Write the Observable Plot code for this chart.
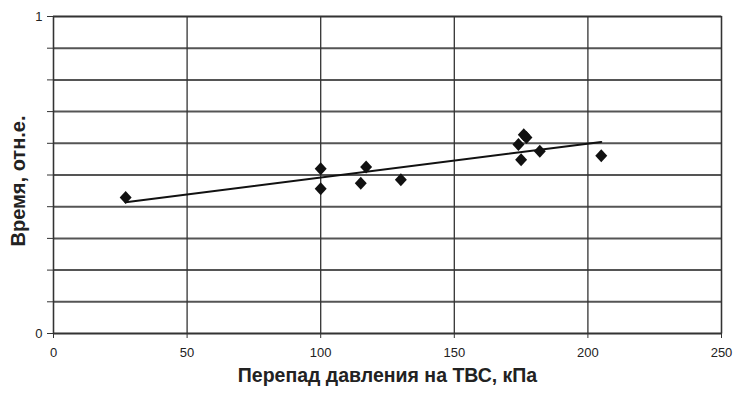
<!DOCTYPE html>
<html><head><meta charset="utf-8">
<script src="https://cdn.jsdelivr.net/npm/d3@7"></script>
<script src="https://cdn.jsdelivr.net/npm/@observablehq/plot@0.6"></script>
<style>body{margin:0;background:#fff}</style>
</head><body><div id="chart"></div>
<script>
const pressure = [27, 100, 100, 115, 117, 130, 174, 175, 176, 177, 182, 205];
const time     = [0.429, 0.52, 0.457, 0.474, 0.525, 0.485, 0.596, 0.548, 0.627, 0.618, 0.575, 0.561];
const xTicks = [0, 50, 100, 150, 200, 250];
const yGrid = [0, 0.1, 0.2, 0.3, 0.4, 0.5, 0.6, 0.7, 0.8, 0.9, 1];
const yLabels = [0, 1];
const xLabel = "Перепад давления на ТВС, кПа";
const yLabel = "Время, отн.е.";

const data = pressure.map((p, i) => ({x: p, y: time[i]}));
const font = "'Liberation Sans Narrow', 'Liberation Sans', Arial, sans-serif";
const boldFont = "'Liberation Sans', Arial, sans-serif";

// Excel-style filled diamond (equal width and height)
const diamond = {
  draw(context, size) {
    const r = Math.sqrt(size / Math.PI);
    const w = r * 0.92;
    context.moveTo(0, -r);
    context.lineTo(w, 0);
    context.lineTo(0, r);
    context.lineTo(-w, 0);
    context.closePath();
  }
};

const chart = Plot.plot({
  width: 737, height: 393,
  marginLeft: 53, marginRight: 16, marginTop: 16, marginBottom: 60,
  style: {fontFamily: font, background: "#fff"},
  x: {domain: [0, 250]},
  y: {domain: [0, 1]},
  marks: [
    Plot.ruleY(yGrid, {stroke: "#555", strokeWidth: 2}),
    Plot.ruleX(xTicks, {stroke: "#333", strokeWidth: 1.3}),
    Plot.frame({stroke: "#333", strokeWidth: 1.3}),
    Plot.axisY({ticks: yGrid, tickFormat: () => "", tickSize: 6, stroke: "#333", label: null}),
    Plot.axisY({ticks: yLabels, tickFormat: d3.format("d"), tickSize: 0, tickPadding: 11, fontSize: 13, fill: "#222", label: null}),
    Plot.axisX({ticks: xTicks, tickSize: 5, tickPadding: 9, fontSize: 13, fill: "#222", stroke: "#333", label: null}),
    Plot.linearRegressionY(data, {x: "x", y: "y", ci: 0, stroke: "#111", strokeWidth: 2}),
    Plot.dot(data, {x: "x", y: "y", symbol: diamond, r: 6.5, fill: "#111", stroke: "none"}),
    Plot.text([xLabel], {frameAnchor: "bottom", dy: 48, fontSize: 19.5, fontWeight: "bold", fontFamily: boldFont, fill: "#222"}),
    Plot.text([yLabel], {frameAnchor: "left", textAnchor: "middle", dx: -35, dy: 6, rotate: -90, fontSize: 20, fontWeight: "bold", fontFamily: boldFont, fill: "#222"})
  ]
});
document.getElementById("chart").append(chart);
</script>
</body></html>
